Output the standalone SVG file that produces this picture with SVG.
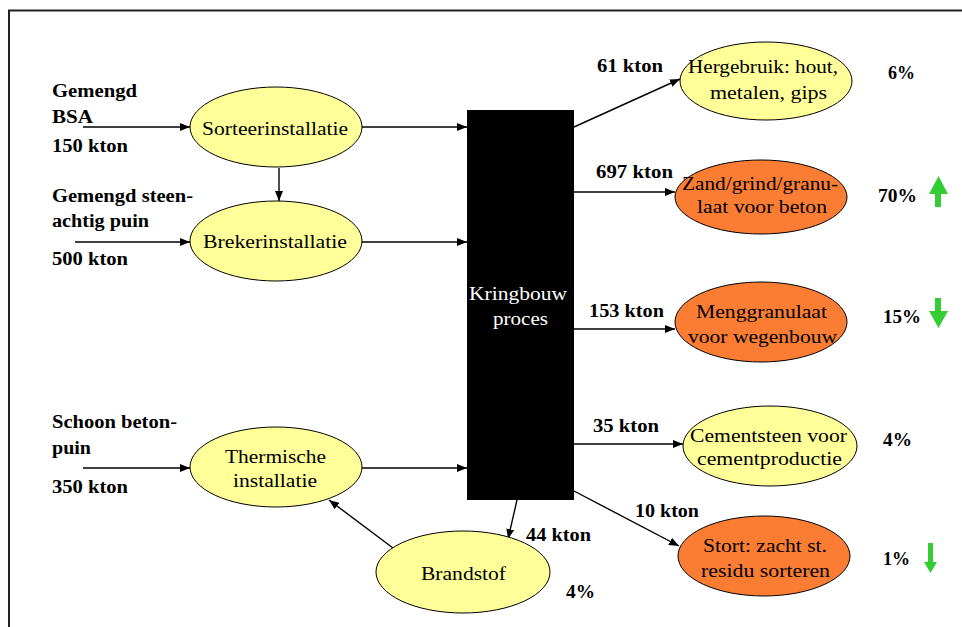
<svg xmlns="http://www.w3.org/2000/svg" width="962" height="627" viewBox="0 0 962 627">
<defs>
<style>
.frame{fill:none;stroke:#222;}
.y{fill:#FFFF99;stroke:#000;stroke-width:1;}
.o{fill:#FA7D33;stroke:#000;stroke-width:1;}
.t{font-family:'Liberation Serif','DejaVu Serif',serif;fill:#000;}
.b{font-weight:bold;font-size:18px;}
.n{font-size:19px;}
.r{font-size:18px;}
.w{fill:#fff;font-size:18px;}
.c{fill:none;stroke:#000;stroke-width:1.4;}
.g{fill:#33CC33;}
</style>
<marker id="ah" viewBox="0 0 10 8" refX="10" refY="4" markerWidth="10" markerHeight="8" markerUnits="userSpaceOnUse" orient="auto">
<path d="M0,0 L10,4 L0,8 Z" fill="#000"/>
</marker>
</defs>
<rect width="962" height="627" fill="#fff"/>
<path class="frame" d="M9,627 L9,10.5 L962,10.5" stroke-width="2"/>

<g id="connectors">
<line class="c" x1="83" y1="127" x2="190" y2="127" marker-end="url(#ah)"/>
<line class="c" x1="362" y1="127" x2="467" y2="127" marker-end="url(#ah)"/>
<line class="c" x1="279" y1="168" x2="279" y2="201" marker-end="url(#ah)"/>
<line class="c" x1="75" y1="242" x2="190" y2="242" marker-end="url(#ah)"/>
<line class="c" x1="362" y1="242" x2="467" y2="242" marker-end="url(#ah)"/>
<line class="c" x1="83" y1="468" x2="190" y2="468" marker-end="url(#ah)"/>
<line class="c" x1="362" y1="468" x2="467" y2="468" marker-end="url(#ah)"/>
<line class="c" x1="393" y1="548" x2="329" y2="500" marker-end="url(#ah)"/>
<line class="c" x1="517" y1="500" x2="508" y2="539" marker-end="url(#ah)"/>
<line class="c" x1="574" y1="127" x2="680" y2="79" marker-end="url(#ah)"/>
<line class="c" x1="574" y1="192" x2="675" y2="192" marker-end="url(#ah)"/>
<line class="c" x1="574" y1="329" x2="675" y2="329" marker-end="url(#ah)"/>
<line class="c" x1="574" y1="444" x2="683" y2="444" marker-end="url(#ah)"/>
<line class="c" x1="574" y1="491" x2="679" y2="546" marker-end="url(#ah)"/>
</g>

<g id="inputs" font-family="Liberation Serif, serif">
<text class="t b" x="52" y="97" textLength="85" lengthAdjust="spacingAndGlyphs">Gemengd</text>
<text class="t b" x="52" y="123" textLength="41" lengthAdjust="spacingAndGlyphs">BSA</text>
<text class="t b" x="52" y="152" textLength="76" lengthAdjust="spacingAndGlyphs">150 kton</text>
<text class="t b" x="52" y="202" textLength="141" lengthAdjust="spacingAndGlyphs">Gemengd steen-</text>
<text class="t b" x="52" y="227" textLength="97" lengthAdjust="spacingAndGlyphs">achtig puin</text>
<text class="t b" x="52" y="265" textLength="76" lengthAdjust="spacingAndGlyphs">500 kton</text>
<text class="t b" x="52" y="428" textLength="125" lengthAdjust="spacingAndGlyphs">Schoon beton-</text>
<text class="t b" x="52" y="454" textLength="39" lengthAdjust="spacingAndGlyphs">puin</text>
<text class="t b" x="52" y="493" textLength="76" lengthAdjust="spacingAndGlyphs">350 kton</text>
</g>

<g id="sorteer">
<ellipse class="y" cx="276" cy="127" rx="86" ry="40"/>
<text class="t n" x="202" y="135" textLength="146" lengthAdjust="spacingAndGlyphs">Sorteerinstallatie</text>
</g>
<g id="breker">
<ellipse class="y" cx="276" cy="241" rx="86" ry="40"/>
<text class="t n" x="203" y="248" textLength="144" lengthAdjust="spacingAndGlyphs">Brekerinstallatie</text>
</g>
<g id="thermisch">
<ellipse class="y" cx="276" cy="467" rx="86" ry="40"/>
<text class="t n" x="225" y="463" textLength="101" lengthAdjust="spacingAndGlyphs">Thermische</text>
<text class="t n" x="233" y="487" textLength="84" lengthAdjust="spacingAndGlyphs">installatie</text>
</g>
<g id="brandstof">
<ellipse class="y" cx="463" cy="572" rx="87" ry="41"/>
<text class="t r" x="421" y="580" textLength="85" lengthAdjust="spacingAndGlyphs">Brandstof</text>
</g>

<g id="kringbouw">
<rect x="467" y="110" width="107" height="390" fill="#000"/>
<text class="t w" x="469" y="300" textLength="98" lengthAdjust="spacingAndGlyphs">Kringbouw</text>
<text class="t w" x="493" y="325" textLength="55" lengthAdjust="spacingAndGlyphs">proces</text>
</g>

<g id="hergebruik">
<ellipse class="y" cx="766" cy="81" rx="86" ry="39"/>
<text class="t r" x="688" y="73" textLength="150" lengthAdjust="spacingAndGlyphs">Hergebruik: hout,</text>
<text class="t r" x="710" y="99" textLength="117" lengthAdjust="spacingAndGlyphs">metalen, gips</text>
</g>
<g id="zand">
<ellipse class="o" cx="761" cy="197" rx="86" ry="37"/>
<text class="t r" x="682" y="190" textLength="156" lengthAdjust="spacingAndGlyphs">Zand/grind/granu-</text>
<text class="t r" x="697" y="213" textLength="130" lengthAdjust="spacingAndGlyphs">laat voor beton</text>
</g>
<g id="menggranulaat">
<ellipse class="o" cx="761" cy="322" rx="86" ry="40"/>
<text class="t r" x="696" y="318" textLength="131" lengthAdjust="spacingAndGlyphs">Menggranulaat</text>
<text class="t r" x="688" y="343" textLength="149" lengthAdjust="spacingAndGlyphs">voor wegenbouw</text>
</g>
<g id="cementsteen">
<ellipse class="y" cx="770" cy="446" rx="87" ry="40"/>
<text class="t r" x="690" y="442" textLength="157" lengthAdjust="spacingAndGlyphs">Cementsteen voor</text>
<text class="t r" x="697" y="465" textLength="145" lengthAdjust="spacingAndGlyphs">cementproductie</text>
</g>
<g id="stort">
<ellipse class="o" cx="764" cy="556" rx="86" ry="40"/>
<text class="t r" x="703" y="552" textLength="124" lengthAdjust="spacingAndGlyphs">Stort: zacht st.</text>
<text class="t r" x="701" y="577" textLength="129" lengthAdjust="spacingAndGlyphs">residu sorteren</text>
</g>

<g id="labels">
<text class="t b" x="597" y="72" textLength="66" lengthAdjust="spacingAndGlyphs">61 kton</text>
<text class="t b" x="596" y="178" textLength="77" lengthAdjust="spacingAndGlyphs">697 kton</text>
<text class="t b" x="589" y="317" textLength="75" lengthAdjust="spacingAndGlyphs">153 kton</text>
<text class="t b" x="593" y="432" textLength="66" lengthAdjust="spacingAndGlyphs">35 kton</text>
<text class="t b" x="635" y="517" textLength="64" lengthAdjust="spacingAndGlyphs">10 kton</text>
<text class="t b" x="526" y="541" textLength="65" lengthAdjust="spacingAndGlyphs">44 kton</text>
<text class="t b" x="888" y="79" textLength="27" lengthAdjust="spacingAndGlyphs">6%</text>
<text class="t b" x="878" y="202" textLength="39" lengthAdjust="spacingAndGlyphs">70%</text>
<text class="t b" x="883" y="323" textLength="38" lengthAdjust="spacingAndGlyphs">15%</text>
<text class="t b" x="883" y="446" textLength="29" lengthAdjust="spacingAndGlyphs">4%</text>
<text class="t b" x="883" y="565" textLength="27" lengthAdjust="spacingAndGlyphs">1%</text>
<text class="t b" x="566" y="598" textLength="29" lengthAdjust="spacingAndGlyphs">4%</text>
</g>

<g id="trends">
<polygon class="g" points="938.5,176 948,194 941,194 941,207 935,207 935,194 929,194"/>
<polygon class="g" points="935,298 941,298 941,311 948,311 938.5,328 929,311 935,311"/>
<polygon class="g" points="928,543 933,543 933,562 937,562 930.5,573 924,562 928,562"/>
</g>
</svg>
